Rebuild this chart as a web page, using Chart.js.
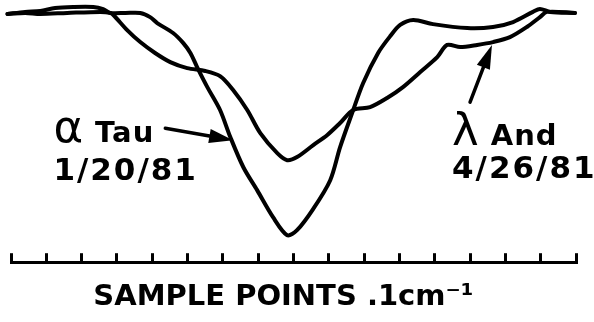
<!DOCTYPE html>
<html>
<head>
<meta charset="utf-8">
<script src="https://cdn.jsdelivr.net/npm/chart.js@4"></script>
<style>
  html, body { margin: 0; padding: 0; background: #fff; }
  #wrap { width: 594px; height: 322px; }
</style>
</head>
<body>
<div id="wrap"><canvas id="profileChart"></canvas></div>
<script>
// sample positions (ruler units) and relative intensity
const tauSamples = [-0.1, 0.4, 0.83, 1.25, 1.76, 2.33, 2.61, 2.81, 3.24, 3.66, 3.94, 4.14, 4.59, 4.88, 5.08, 5.27, 5.56, 5.92, 6.21, 6.58, 6.97, 7.42, 7.82, 8.1, 8.56, 9.04, 9.32, 9.66, 9.97, 10.4, 10.74, 11.02, 11.39, 11.95, 12.92, 13.65, 14.22, 14.78, 14.98, 15.27, 15.97];
const tauFlux = [95.4, 96.2, 96.5, 97.7, 98.1, 98.1, 97.3, 95.8, 95.8, 95.8, 94.2, 91.9, 88.1, 84.2, 80.4, 75.0, 67.3, 58.5, 48.1, 36.5, 27.7, 17.3, 10.4, 12.3, 20.5, 31.5, 44.2, 57.3, 68.8, 80.5, 86.9, 91.2, 93.1, 91.5, 90.0, 90.4, 92.3, 96.2, 97.3, 96.2, 95.8];

const andSamples = [-0.1, 0.4, 0.83, 1.59, 2.53, 2.81, 2.9, 3.29, 3.66, 4.08, 4.51, 4.99, 5.5, 5.92, 6.29, 6.69, 7.06, 7.54, 7.82, 8.1, 8.56, 8.95, 9.32, 9.69, 10.17, 10.65, 11.1, 11.59, 12.07, 12.35, 12.72, 13.2, 13.65, 14.13, 14.61, 14.98, 15.18, 15.97];
const andFlux = [95.4, 95.8, 95.4, 95.8, 96.2, 95.8, 95.0, 89.2, 84.6, 80.4, 76.9, 74.6, 73.5, 71.5, 66.2, 58.5, 49.6, 41.9, 39.2, 40.4, 45.0, 48.8, 53.5, 58.5, 59.6, 63.1, 67.3, 73.1, 78.8, 83.5, 82.7, 83.5, 84.6, 86.5, 90.4, 94.2, 96.2, 95.8];

const rulerMin = 0;
const rulerMax = 16;
const axisTitle = 'SAMPLE POINTS .1cm⁻¹  ';

// star labels, anchored in data coordinates
const labels = [
  { symbol: 'α', name: 'Tau', date: '1/20/81', x: 1.2, y: 46.2, dateY: 31.5,
    arrowFrom: [4.37, 51.5], arrowTo: [6.29, 46.9] },
  { symbol: 'λ', name: 'And', date: '4/26/81', x: 12.49, y: 45.0, dateY: 32.3,
    arrowFrom: [13.0, 61.5], arrowTo: [13.62, 83.5] },
];

const toPoints = (xs, ys) => xs.map((x, i) => ({ x, y: ys[i] }));

const starLabels = {
  id: 'starLabels',
  afterDatasetsDraw(chart) {
    const { ctx, scales: { x, y } } = chart;
    ctx.save();
    ctx.fillStyle = '#000';
    ctx.strokeStyle = '#000';
    ctx.textBaseline = 'alphabetic';
    ctx.textAlign = 'left';
    labels.forEach(l => {
      const px = x.getPixelForValue(l.x);
      const py = y.getPixelForValue(l.y);
      ctx.letterSpacing = '0px';
      ctx.font = '45px "DejaVu Sans"';
      ctx.fillText(l.symbol, px, py);
      const symW = ctx.measureText(l.symbol).width;
      ctx.font = 'bold 29px "DejaVu Sans"';
      ctx.letterSpacing = '1px';
      ctx.fillText(l.name, px + symW + 12, py);
      ctx.font = 'bold 31px "DejaVu Sans"';
      ctx.letterSpacing = '2px';
      ctx.fillText(l.date, px, y.getPixelForValue(l.dateY));

      // arrow
      const x1 = x.getPixelForValue(l.arrowFrom[0]);
      const y1 = y.getPixelForValue(l.arrowFrom[1]);
      const x2 = x.getPixelForValue(l.arrowTo[0]);
      const y2 = y.getPixelForValue(l.arrowTo[1]);
      const ang = Math.atan2(y2 - y1, x2 - x1);
      const head = 24, half = 7;
      const bx = x2 - head * Math.cos(ang);
      const by = y2 - head * Math.sin(ang);
      ctx.lineWidth = 3.5;
      ctx.lineCap = 'round';
      ctx.beginPath();
      ctx.moveTo(x1, y1);
      ctx.lineTo(bx, by);
      ctx.stroke();
      ctx.beginPath();
      ctx.moveTo(x2, y2);
      ctx.lineTo(bx + half * Math.sin(ang), by - half * Math.cos(ang));
      ctx.lineTo(bx - half * Math.sin(ang), by + half * Math.cos(ang));
      ctx.closePath();
      ctx.fill();
    });
    ctx.restore();
  }
};

const lineStyle = {
  borderColor: '#000',
  borderWidth: 4,
  pointRadius: 0,
  fill: false,
  tension: 0.3,
  borderCapStyle: 'round',
  borderJoinStyle: 'round',
  clip: false,
};

new Chart(document.getElementById('profileChart'), {
  type: 'line',
  data: {
    datasets: [
      { label: 'α Tau 1/20/81', data: toPoints(tauSamples, tauFlux), ...lineStyle },
      { label: 'λ And 4/26/81', data: toPoints(andSamples, andFlux), ...lineStyle },
    ]
  },
  options: {
    responsive: true,
    maintainAspectRatio: false,
    animation: false,
    layout: { padding: { left: 11, right: 18, top: 2, bottom: 0 } },
    scales: {
      x: {
        type: 'linear',
        min: rulerMin,
        max: rulerMax,
        ticks: { display: false, stepSize: 1 },
        grid: {
          drawOnChartArea: false,
          drawTicks: true,
          tickLength: -9,
          tickWidth: 3,
          tickColor: '#000',
        },
        border: { display: true, color: '#000', width: 3 },
        title: {
          display: true,
          text: axisTitle,
          color: '#000',
          font: { family: '"DejaVu Sans"', size: 29, weight: 'bold', lineHeight: 1.2 },
          padding: { top: 27, bottom: 7 },
        },
      },
      y: {
        display: false,
        min: 0,
        max: 100,
      },
    },
    plugins: {
      legend: { display: false },
      tooltip: { enabled: false },
    },
  },
  plugins: [starLabels],
});
</script>
</body>
</html>
